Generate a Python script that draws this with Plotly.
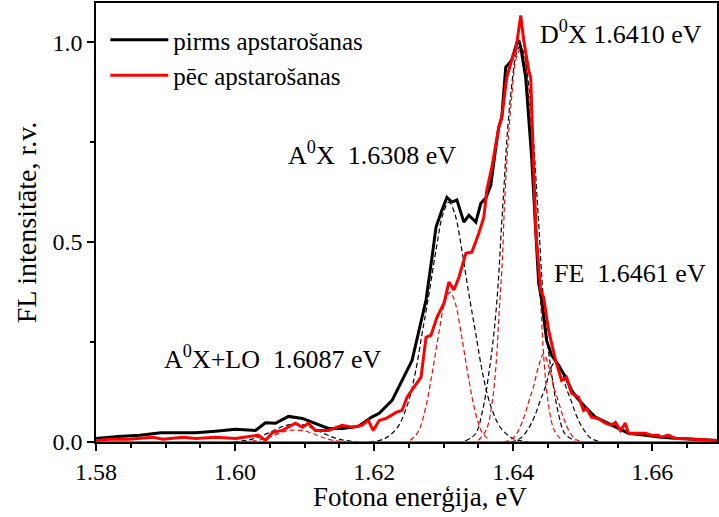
import plotly.graph_objects as go

# ---------------- data ----------------
energy_before = [1.5800, 1.58315, 1.58631, 1.58932, 1.59204, 1.59434, 1.59720, 1.60007, 1.60294, 1.60437,
                 1.60581, 1.60767, 1.60968, 1.61154, 1.61341, 1.61541, 1.61771, 1.61971, 1.62072, 1.62258,
                 1.62401, 1.62545, 1.62645, 1.62746, 1.62832, 1.62889, 1.62975, 1.63047, 1.63118, 1.63190,
                 1.63290, 1.63362, 1.63462, 1.63534, 1.63606, 1.63677, 1.63749, 1.63792, 1.63835, 1.63892,
                 1.63978, 1.64050, 1.64079, 1.64108, 1.64179, 1.64265, 1.64323, 1.64366, 1.64409, 1.64480,
                 1.64552, 1.64652, 1.64753, 1.64839, 1.64910, 1.65039, 1.65183, 1.65369, 1.65513, 1.65656,
                 1.65900, 1.66129, 1.66373, 1.66616, 1.66932]
intensity_before = [0.009, 0.014, 0.017, 0.023, 0.023, 0.023, 0.027, 0.032, 0.029, 0.048,
                    0.047, 0.064, 0.059, 0.047, 0.034, 0.034, 0.039, 0.063, 0.072, 0.104,
                    0.154, 0.204, 0.279, 0.355, 0.462, 0.537, 0.580, 0.612, 0.600, 0.605,
                    0.550, 0.567, 0.550, 0.597, 0.610, 0.642, 0.737, 0.787, 0.812, 0.937,
                    0.955, 0.997, 1.005, 0.987, 0.912, 0.712, 0.530, 0.397, 0.355, 0.254,
                    0.217, 0.192, 0.162, 0.129, 0.112, 0.087, 0.062, 0.047, 0.034, 0.022,
                    0.017, 0.012, 0.009, 0.007, 0.004]

energy_after = [1.5800, 1.58201, 1.58473, 1.58817, 1.58961, 1.59247, 1.59434, 1.59720, 1.60007, 1.60337,
                1.60437, 1.60538, 1.60681, 1.60867, 1.60968, 1.61054, 1.61154, 1.61341, 1.61541, 1.61685,
                1.61828, 1.61914, 1.61986, 1.62072, 1.62172, 1.62315, 1.62401, 1.62473, 1.62573, 1.62674,
                1.62746, 1.62817, 1.62903, 1.63004, 1.63075, 1.63147, 1.63219, 1.63319, 1.63405, 1.63505,
                1.63577, 1.63620, 1.63692, 1.63792, 1.63835, 1.63907, 1.64007, 1.64036, 1.64108, 1.64151,
                1.64222, 1.64251, 1.64323, 1.64394, 1.64437, 1.64509, 1.64609, 1.64695, 1.64767, 1.64839,
                1.64939, 1.65011, 1.65054, 1.65125, 1.65226, 1.65326, 1.65412, 1.65470, 1.65541, 1.65613,
                1.65656, 1.65799, 1.65900, 1.65986, 1.66086, 1.66129, 1.66229, 1.66330, 1.66473, 1.66616,
                1.66932]
intensity_after = [0.004, 0.007, 0.007, 0.012, 0.007, 0.012, 0.009, 0.012, 0.009, 0.017,
                   0.004, 0.024, 0.029, 0.047, 0.037, 0.047, 0.029, 0.029, 0.042, 0.037,
                   0.042, 0.054, 0.029, 0.054, 0.059, 0.074, 0.079, 0.112, 0.137, 0.162,
                   0.262, 0.267, 0.312, 0.347, 0.400, 0.380, 0.412, 0.472, 0.475, 0.522,
                   0.562, 0.630, 0.687, 0.787, 0.812, 0.912, 0.972, 0.980, 1.067, 1.005,
                   0.930, 0.912, 0.530, 0.380, 0.362, 0.279, 0.204, 0.154, 0.162, 0.122,
                   0.112, 0.079, 0.084, 0.062, 0.059, 0.047, 0.042, 0.049, 0.029, 0.047,
                   0.022, 0.022, 0.022, 0.017, 0.017, 0.012, 0.017, 0.009, 0.009, 0.007,
                   0.004]

# fitted components (dashed), black = before, red = after
fit_before = {
    "A0X+LO": ([1.5997, 1.6022, 1.6042, 1.6057, 1.6072, 1.6087, 1.6102, 1.6117, 1.6132, 1.6152, 1.6177],
               [0.0, 0.006, 0.018, 0.030, 0.041, 0.045, 0.041, 0.030, 0.018, 0.006, 0.0]),
    "A0X": ([1.61928, 1.62143, 1.62329, 1.62473, 1.62588, 1.62688, 1.62788, 1.62889, 1.62989, 1.63075,
             1.63161, 1.63261, 1.63362, 1.63462, 1.63562, 1.63677, 1.63821, 1.64007, 1.64222],
            [0.0, 0.008, 0.035, 0.09, 0.17, 0.27, 0.37, 0.48, 0.57, 0.60,
             0.57, 0.48, 0.37, 0.27, 0.17, 0.09, 0.035, 0.008, 0.0]),
    "D0X": ([1.6331, 1.63455, 1.63555, 1.63656, 1.63727, 1.63785, 1.63828, 1.63871, 1.63914, 1.63971,
             1.64043, 1.6410, 1.64157, 1.64229, 1.64286, 1.64329, 1.64372, 1.64415, 1.64473, 1.64544,
             1.64645, 1.64745, 1.6489],
            [0.003, 0.02, 0.075, 0.18, 0.28, 0.40, 0.53, 0.65, 0.77, 0.88,
             0.97, 0.99, 0.97, 0.88, 0.77, 0.65, 0.53, 0.40, 0.28, 0.18,
             0.075, 0.02, 0.003]),
    "FE": ([1.63965, 1.64108, 1.64223, 1.64309, 1.64381, 1.64467, 1.64538, 1.6461, 1.64682, 1.64753,
            1.64839, 1.64911, 1.64997, 1.65112, 1.65255],
           [0.0, 0.01, 0.035, 0.065, 0.10, 0.14, 0.185, 0.20, 0.185, 0.14,
            0.10, 0.065, 0.035, 0.01, 0.0]),
}
fit_after = {
    "A0X+LO": ([1.6012, 1.6032, 1.6049, 1.6062, 1.6075, 1.6087, 1.6099, 1.6112, 1.6125, 1.6142, 1.6162],
               [0.0, 0.004, 0.012, 0.021, 0.028, 0.030, 0.028, 0.021, 0.012, 0.004, 0.0]),
    "A0X": ([1.62517, 1.62631, 1.62732, 1.62832, 1.62918, 1.63018, 1.6309, 1.63162, 1.63262, 1.63348,
             1.63448, 1.63549, 1.63663],
            [0.004, 0.025, 0.08, 0.17, 0.26, 0.35, 0.375, 0.35, 0.26, 0.17, 0.08, 0.025, 0.004]),
    "D0X": ([1.63498, 1.63612, 1.63698, 1.63756, 1.63799, 1.63842, 1.63871, 1.63914, 1.63971, 1.64043,
             1.6410, 1.64157, 1.64229, 1.64286, 1.64329, 1.64358, 1.64401, 1.64444, 1.64502, 1.64588,
             1.64702],
            [0.004, 0.03, 0.10, 0.20, 0.33, 0.45, 0.58, 0.72, 0.85, 0.96,
             0.98, 0.96, 0.85, 0.72, 0.58, 0.45, 0.33, 0.20, 0.10, 0.03, 0.004]),
    "FE": ([1.63864, 1.63978, 1.64064, 1.6415, 1.64222, 1.64294, 1.64365, 1.64437, 1.64509, 1.6458,
            1.64652, 1.64724, 1.6481, 1.64896, 1.6501],
           [0.0, 0.007, 0.025, 0.06, 0.10, 0.14, 0.19, 0.22, 0.19, 0.14,
            0.10, 0.06, 0.025, 0.007, 0.0]),
}

x_ticks = [1.58, 1.60, 1.62, 1.64, 1.66]
y_ticks = [0.0, 0.5, 1.0]
series_names = ["pirms apstarošanas", "pēc apstarošanas"]
peak_labels = ["D<sup>0</sup>X 1.6410 eV", "A<sup>0</sup>X\u00a0 1.6308 eV",
               "FE\u00a0 1.6461 eV", "A<sup>0</sup>X+LO\u00a0 1.6087 eV"]
x_title = "Fotona enerģija, eV"
y_title = "FL intensitāte, r.v."

# ---------------- figure ----------------
FONT = "Liberation Serif, Times New Roman, serif"
fig = go.Figure()

for comps, col in ((fit_before, "black"), (fit_after, "red")):
    for name, (xs, ys) in comps.items():
        fig.add_trace(go.Scatter(x=xs, y=ys, mode="lines", showlegend=False,
                                 line=dict(color=col, width=1.2, dash="5px,3px", shape="spline"),
                                 hoverinfo="skip"))

fig.add_trace(go.Scatter(x=energy_before, y=intensity_before, mode="lines", name=series_names[0],
                         line=dict(color="black", width=3)))
fig.add_trace(go.Scatter(x=energy_after, y=intensity_after, mode="lines", name=series_names[1],
                         line=dict(color="#ff0000", width=3)))

fig.add_hline(y=0, line=dict(color="red", width=1.5))

ann_pos = [(1.64351, 1.025), (1.60738, 0.722), (1.64552, 0.422), (1.58946, 0.212)]
for txt, (ax_, ay_) in zip(peak_labels, ann_pos):
    fig.add_annotation(x=ax_, y=ay_, xref="x", yref="y", text=txt, showarrow=False,
                       xanchor="left", yanchor="middle", font=dict(size=26, color="black", family=FONT))

# x-axis title (slightly right of centre, as in the reference)
fig.add_annotation(x=0.522, y=-0.126, xref="paper", yref="paper", text=x_title, showarrow=False,
                   xanchor="center", yanchor="middle", font=dict(size=27, color="black", family=FONT))

fig.update_layout(
    width=719, height=517,
    margin=dict(l=96, r=0, t=3, b=75),
    plot_bgcolor="white", paper_bgcolor="white",
    font=dict(family=FONT, color="black", size=23),
    legend=dict(x=0.015, y=0.968, xanchor="left", yanchor="top", bgcolor="rgba(0,0,0,0)",
                font=dict(size=25, family=FONT), itemwidth=58, tracegroupgap=0),
    showlegend=True,
)
fig.update_xaxes(range=[1.58, 1.6693], tickvals=x_ticks, tickformat=".2f",
                 ticks="outside", ticklen=7, tickwidth=1.5, tickcolor="black",
                 minor=dict(dtick=0.005, ticks="outside", ticklen=4, tickwidth=1.5, tickcolor="black"),
                 showline=True, linecolor="black", linewidth=1.5, mirror=True,
                 showgrid=False, zeroline=False,
                 tickfont=dict(size=24, family=FONT))
fig.update_yaxes(range=[0, 1.098], tickvals=y_ticks, tickformat=".1f",
                 ticks="outside", ticklen=7, tickwidth=1.5, tickcolor="black",
                 minor=dict(dtick=0.25, ticks="outside", ticklen=4, tickwidth=1.5, tickcolor="black"),
                 showline=True, linecolor="black", linewidth=1.5, mirror=True,
                 showgrid=False, zeroline=False,
                 tickfont=dict(size=24, family=FONT),
                 title=dict(text=y_title, font=dict(size=28, family=FONT), standoff=8))

fig.write_html("out.html")
